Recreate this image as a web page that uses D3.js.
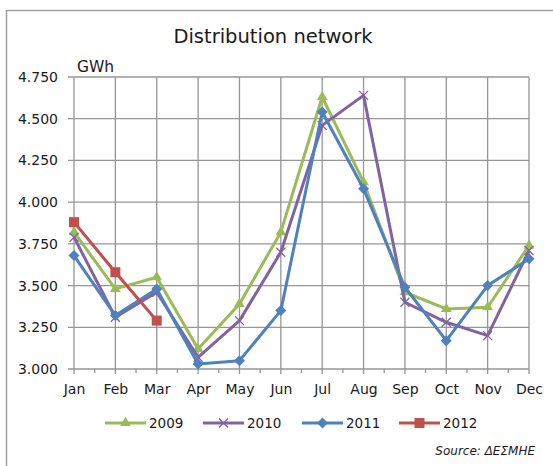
<!DOCTYPE html>
<html lang="en">

<head>
  <meta charset="UTF-8">
  <title>Distribution network</title>
  <style>
    * {
      margin: 0;
      padding: 0;
      box-sizing: border-box;
    }

    body {
      background-color: white;
      font-family: "DejaVu Sans", sans-serif;
    }

    #chart {
      display: block;
    }
  </style>
  <script src="https://cdnjs.cloudflare.com/ajax/libs/d3/7.8.5/d3.min.js"></script>
</head>

<body>
  <svg id="chart"></svg>

  <script>
    const months = ['Jan', 'Feb', 'Mar', 'Apr', 'May', 'Jun', 'Jul', 'Aug', 'Sep', 'Oct', 'Nov', 'Dec'];
    const yTicks = [3.0, 3.25, 3.5, 3.75, 4.0, 4.25, 4.5, 4.75];

    const values2009 = [3.82, 3.48, 3.55, 3.12, 3.39, 3.82, 4.63, 4.12, 3.46, 3.36, 3.37, 3.74];
    const values2010 = [3.79, 3.31, 3.46, 3.07, 3.29, 3.70, 4.46, 4.64, 3.40, 3.28, 3.20, 3.71];
    const values2011 = [3.68, 3.32, 3.48, 3.03, 3.05, 3.35, 4.54, 4.08, 3.49, 3.17, 3.50, 3.66];
    const values2012 = [3.88, 3.58, 3.29];

    const series = [
      { name: '2009', values: values2009, color: '#9BBB59', marker: 'triangle' },
      { name: '2010', values: values2010, color: '#8064A2', marker: 'cross' },
      { name: '2011', values: values2011, color: '#4F81BD', marker: 'diamond' },
      { name: '2012', values: values2012, color: '#C0504D', marker: 'square' }
    ];

    const width = 553;
    const height = 466;
    const gridColor = '#969696';
    const textColor = '#1a1a1a';

    const svg = d3.select('#chart')
      .attr('width', width)
      .attr('height', height);

    // outer frame (only top and left edges are inside the picture)
    svg.append('path')
      .attr('d', `M6.5,${height} V10.5 H${width}`)
      .attr('fill', 'none')
      .attr('stroke', '#a0a0a0')
      .attr('stroke-width', 1.5);

    const x = d3.scalePoint()
      .domain(months)
      .range([74, 529]);

    const y = d3.scaleLinear()
      .domain([3.0, 4.75])
      .range([369, 77]);

    // title
    svg.append('text')
      .attr('x', 273)
      .attr('y', 43)
      .attr('text-anchor', 'middle')
      .attr('font-size', 19.5)
      .attr('fill', textColor)
      .text('Distribution network');

    svg.append('text')
      .attr('x', 77)
      .attr('y', 72)
      .attr('font-size', 15.5)
      .attr('fill', textColor)
      .text('GWh');

    // horizontal grid
    svg.append('g')
      .selectAll('line')
      .data(yTicks)
      .join('line')
      .attr('x1', 68)
      .attr('x2', x('Dec'))
      .attr('y1', d => y(d))
      .attr('y2', d => y(d))
      .attr('stroke', gridColor)
      .attr('stroke-width', 1.3);

    // vertical grid
    svg.append('g')
      .selectAll('line')
      .data(months)
      .join('line')
      .attr('x1', d => x(d))
      .attr('x2', d => x(d))
      .attr('y1', y(4.75))
      .attr('y2', y(3.0) + 5)
      .attr('stroke', gridColor)
      .attr('stroke-width', 1.3);

    // minor ticks between months
    const step = x.step();
    svg.append('g')
      .selectAll('line')
      .data(months.slice(1))
      .join('line')
      .attr('x1', d => x(d) - step / 2)
      .attr('x2', d => x(d) - step / 2)
      .attr('y1', y(3.0))
      .attr('y2', y(3.0) + 4)
      .attr('stroke', gridColor)
      .attr('stroke-width', 1.3);

    // y axis labels
    const yAxis = svg.append('g')
      .attr('transform', 'translate(68,0)')
      .call(d3.axisLeft(y).tickValues(yTicks).tickFormat(d3.format('.3f')).tickSize(0).tickPadding(10));
    yAxis.select('.domain').remove();
    yAxis.selectAll('text')
      .attr('font-family', '"DejaVu Sans", sans-serif')
      .attr('font-size', 14)
      .attr('fill', textColor);

    // x axis labels
    const xAxis = svg.append('g')
      .attr('transform', `translate(0,${y(3.0)})`)
      .call(d3.axisBottom(x).tickSize(0).tickPadding(15));
    xAxis.select('.domain').remove();
    xAxis.selectAll('text')
      .attr('font-family', '"DejaVu Sans", sans-serif')
      .attr('font-size', 14)
      .attr('fill', textColor);

    function drawMarker(g, type, color) {
      if (type === 'triangle') {
        g.append('path').attr('d', d3.symbol(d3.symbolTriangle, 50)()).attr('fill', color);
      } else if (type === 'diamond') {
        g.append('path').attr('d', 'M0,-5.5L5.5,0L0,5.5L-5.5,0Z').attr('fill', color);
      } else if (type === 'square') {
        g.append('rect').attr('x', -5).attr('y', -5).attr('width', 10).attr('height', 10).attr('fill', color);
      } else {
        g.append('path').attr('d', 'M-4.5,-4.5L4.5,4.5M-4.5,4.5L4.5,-4.5')
          .attr('stroke', color).attr('stroke-width', 1.3).attr('fill', 'none');
      }
    }

    const line = d3.line()
      .x((d, i) => x(months[i]))
      .y(d => y(d));

    series.forEach(s => {
      svg.append('path')
        .datum(s.values)
        .attr('d', line)
        .attr('fill', 'none')
        .attr('stroke', s.color)
        .attr('stroke-width', 3)
        .attr('stroke-linejoin', 'round');

      s.values.forEach((v, i) => {
        const g = svg.append('g').attr('transform', `translate(${x(months[i])},${y(v)})`);
        drawMarker(g, s.marker, s.color);
      });
    });

    // legend
    const legendX = [105, 203, 302, 399];
    series.forEach((s, i) => {
      const lg = svg.append('g').attr('transform', `translate(${legendX[i]},423)`);
      lg.append('line')
        .attr('x1', 0).attr('x2', 41)
        .attr('stroke', s.color).attr('stroke-width', 3);
      const m = lg.append('g').attr('transform', 'translate(20.5,0)');
      drawMarker(m, s.marker, s.color);
      lg.append('text')
        .attr('x', 44)
        .attr('y', 5)
        .attr('font-size', 13.5)
        .attr('fill', textColor)
        .text(s.name);
    });

    svg.append('text')
      .attr('x', 535)
      .attr('y', 455)
      .attr('text-anchor', 'end')
      .attr('font-size', 12)
      .attr('font-style', 'italic')
      .attr('fill', textColor)
      .text('Source: ΔΕΣΜΗΕ');
  </script>
</body>

</html>
